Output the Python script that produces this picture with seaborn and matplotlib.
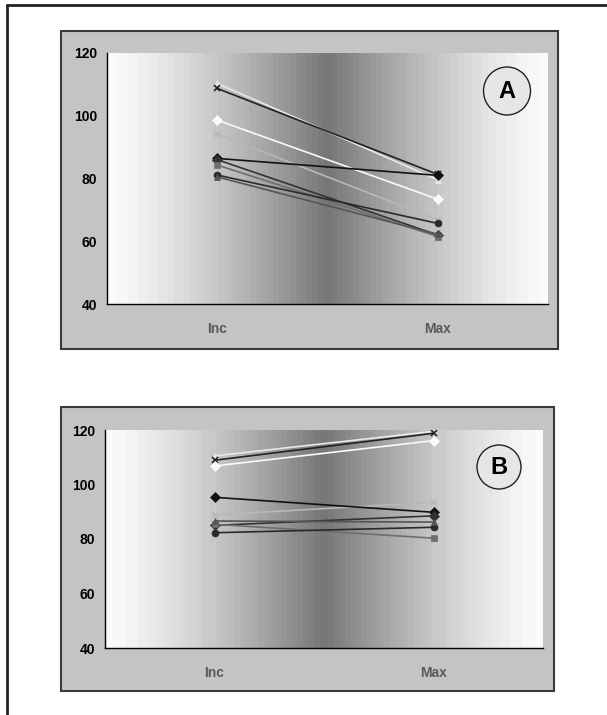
import numpy as np
import pandas as pd
import matplotlib
matplotlib.use("Agg")
import matplotlib.pyplot as plt
from matplotlib.patches import Rectangle, Ellipse
from matplotlib.lines import Line2D
import seaborn as sns

sns.set_style("white")
plt.rcParams['font.family'] = ['Liberation Sans', 'DejaVu Sans']

categories = ["Inc", "Max"]
yticks = [40, 60, 80, 100, 120]

# panel A: value at Inc, value at Max per series
series_names = ["s1", "s2", "s3", "s4", "s5", "s6", "s7", "s8", "s9"]
a_inc = [110.3, 108.7, 98.6, 94.2, 86.4, 86.0, 84.3, 81.1, 80.5]
a_max = [79.6, 81.3, 73.4, 66.8, 81.0, 62.0, 61.5, 65.7, 62.2]
# panel B
b_inc = [110.5, 108.9, 106.8, 88.8, 95.3, 85.0, 85.4, 82.3, 86.6]
b_max = [119.5, 118.8, 116.1, 93.5, 89.8, 88.5, 80.3, 84.3, 86.2]

colors = {"s1": "#e8e8e8", "s2": "#222222", "s3": "#fafafa", "s4": "#b8b8b8",
          "s5": "#111111", "s6": "#333333", "s7": "#6e6e6e", "s8": "#2a2a2a",
          "s9": "#555555"}
markers = {"s1": "^", "s2": "x", "s3": "D", "s4": "x", "s5": "D",
           "s6": "D", "s7": "s", "s8": "o", "s9": "^"}


def long_frame(inc, mx):
    rows = []
    for name, v0, v1 in zip(series_names, inc, mx):
        rows.append({"series": name, "phase": categories[0], "value": v0})
        rows.append({"series": name, "phase": categories[1], "value": v1})
    return pd.DataFrame(rows)


fig = plt.figure(figsize=(6.07, 7.15), dpi=100)

# outer frame (left and top only visible)
fig.add_artist(Line2D([7 / 607, 7 / 607], [0, 1 - 5 / 715], color="#222222", lw=2,
                      transform=fig.transFigure))
fig.add_artist(Line2D([7 / 607, 1.0], [1 - 5 / 715, 1 - 5 / 715], color="#222222", lw=2,
                      transform=fig.transFigure))

# gradient background profile
xs = np.linspace(0, 1, 400)
prof = 0.98 - 0.52 * (1 - np.abs(2 * xs - 1)) ** 1.35
prof = np.round(prof * 60) / 60
grad = np.tile(prof, (2, 1))

panels = [
    dict(box=(61, 31, 558, 349), ax=(107, 53, 548, 304), inc=a_inc, mx=a_max,
         label="A", circ=(507, 91, 47, 48)),
    dict(box=(61, 407, 554, 691), ax=(105, 430, 543, 648), inc=b_inc, mx=b_max,
         label="B", circ=(499, 467, 44, 44)),
]

for p in panels:
    x0, y0, x1, y1 = p["box"]
    fig.add_artist(Rectangle((x0 / 607, 1 - y1 / 715), (x1 - x0) / 607, (y1 - y0) / 715,
                             facecolor="#c4c4c4", edgecolor="#3a3a3a", lw=1.5,
                             transform=fig.transFigure, zorder=0))
    ax0, ay0, ax1, ay1 = p["ax"]
    ax = fig.add_axes([ax0 / 607, 1 - ay1 / 715, (ax1 - ax0) / 607, (ay1 - ay0) / 715])
    ax.set_zorder(1)
    ax.imshow(grad, cmap="gray", vmin=0, vmax=1, aspect="auto",
              extent=(-0.5, 1.5, 40, 120), interpolation="nearest", zorder=0)

    df = long_frame(p["inc"], p["mx"])
    for name in series_names:
        sub = df[df["series"] == name]
        sns.lineplot(data=sub, x="phase", y="value", color=colors[name],
                     marker=markers[name], lw=1.2, markersize=5,
                     markeredgewidth=1.2 if markers[name] == "x" else 0.5,
                     markeredgecolor=colors[name], ax=ax, zorder=3, sort=False)

    ax.set_xlim(-0.5, 1.5)
    ax.set_ylim(40, 120)
    ax.set_yticks(yticks)
    ax.set_yticklabels([str(t) for t in yticks], fontsize=10, fontweight="bold", color="black")
    ax.set_xticks([-0.5, 0.5, 1.5])
    ax.set_xticklabels([])
    ax.set_xticks([0, 1], minor=True)
    ax.set_xticklabels(categories, minor=True, fontsize=10, fontweight="bold", color="#5a5a5a")
    ax.tick_params(axis="x", which="minor", length=0, pad=13)
    ax.tick_params(axis="x", which="major", length=5, width=1, color="black", direction="out")
    ax.tick_params(axis="y", length=4, width=1, color="black", direction="out", pad=3)
    ax.set_xlabel("")
    ax.set_ylabel("")
    for s in ["top", "right"]:
        ax.spines[s].set_visible(False)
    for s in ["left", "bottom"]:
        ax.spines[s].set_color("black")
        ax.spines[s].set_linewidth(1)

    cx, cy, cw, ch = p["circ"]
    fig.add_artist(Ellipse((cx / 607, 1 - cy / 715), cw / 607, ch / 715,
                           facecolor="#e6e6e6", edgecolor="#222222", lw=1,
                           transform=fig.transFigure, zorder=5))
    fig.text(cx / 607, 1 - cy / 715, p["label"], ha="center", va="center",
             fontsize=17, fontweight="bold", color="black", zorder=6)

fig.savefig("out.png", dpi=100)
